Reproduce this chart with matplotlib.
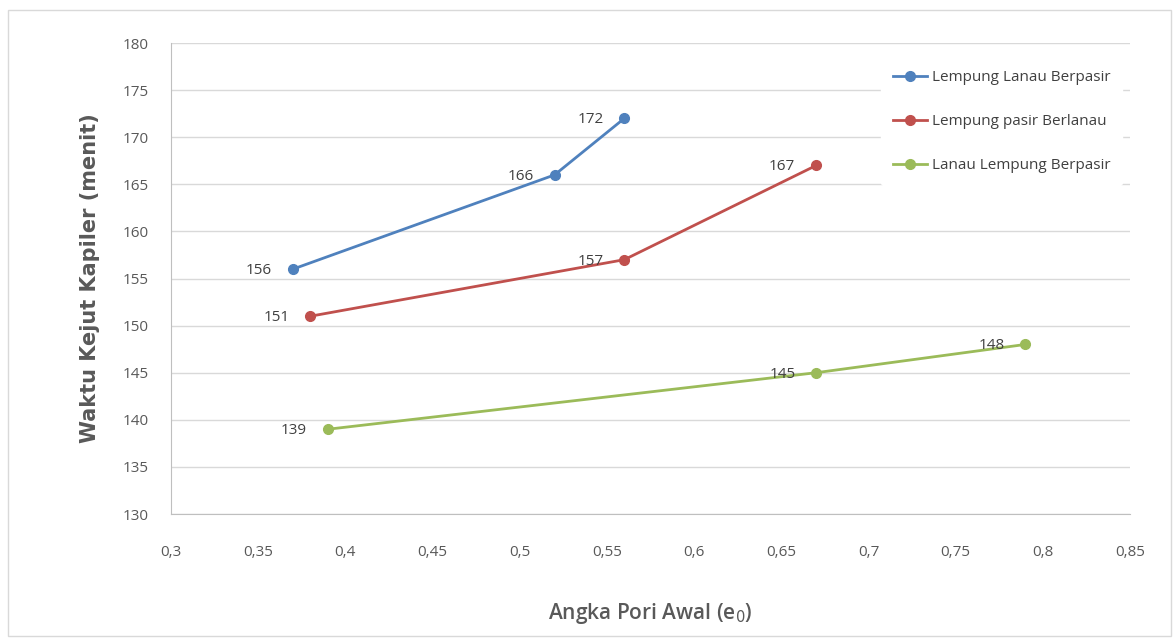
import matplotlib.pyplot as plt
from matplotlib.ticker import FuncFormatter, MultipleLocator

# Data
series_names = ["Lempung Lanau Berpasir", "Lempung pasir Berlanau", "Lanau Lempung Berpasir"]
x_llb = [0.37, 0.52, 0.56]
y_llb = [156, 166, 172]
x_lpb = [0.38, 0.56, 0.67]
y_lpb = [151, 157, 167]
x_lalb = [0.39, 0.67, 0.79]
y_lalb = [139, 145, 148]
colors = ["#4F81BD", "#C0504D", "#9BBB59"]

fig = plt.figure(figsize=(11.75, 6.39), dpi=100)
# outer light border
fig.patches.append(plt.Rectangle((0.007, 0.005), 0.99, 0.98, transform=fig.transFigure,
                                  fill=False, edgecolor="#D9D9D9", linewidth=1))
ax = fig.add_axes([0.1455, 0.1956, 0.8162, 0.7371])

all_series = [(x_llb, y_llb), (x_lpb, y_lpb), (x_lalb, y_lalb)]
for (xs, ys), c, name in zip(all_series, colors, series_names):
    ax.plot(xs, ys, color=c, lw=2, marker="o", ms=7, label=name, zorder=3)
    for xv, yv in zip(xs, ys):
        ax.annotate(f"{yv}", (xv, yv), xytext=(-15, -1), textcoords="offset points",
                    ha="right", va="center", fontsize=11, color="#404040",
                    family="Open Sans")

ax.set_xlim(0.3, 0.85)
ax.set_ylim(130, 180)
ax.xaxis.set_major_locator(MultipleLocator(0.05))
ax.yaxis.set_major_locator(MultipleLocator(5))
ax.xaxis.set_major_formatter(FuncFormatter(lambda v, p: f"{v:.2f}".rstrip("0").replace(".", ",")))
ax.grid(axis="y", color="#D9D9D9", lw=1)
ax.set_axisbelow(True)
for s in ["top", "right"]:
    ax.spines[s].set_visible(False)
ax.spines["left"].set_color("#BFBFBF")
ax.spines["bottom"].set_color("#BFBFBF")
ax.tick_params(length=0, labelsize=11, labelcolor="#595959")
ax.tick_params(axis="x", pad=22)
ax.tick_params(axis="y", pad=16)
for lbl in ax.get_xticklabels() + ax.get_yticklabels():
    lbl.set_family("Open Sans")

ax.set_xlabel("Angka Pori Awal (e$_0$)", fontsize=15, color="#595959", family="Open Sans",
              fontweight="semibold", labelpad=30)
ax.set_ylabel("Waktu Kejut Kapiler (menit)", fontsize=15, color="#595959", family="DejaVu Sans",
              fontweight="bold", labelpad=16)

leg = ax.legend(loc="upper right", bbox_to_anchor=(1.0, 0.985), frameon=True, framealpha=1,
                edgecolor="white", facecolor="white", labelspacing=1.9,
                handlelength=2.2, handletextpad=0.3, borderpad=0.8,
                prop={"family": "Open Sans", "size": 11})
for t in leg.get_texts():
    t.set_color("#404040")

fig.savefig("out.png", dpi=100)
